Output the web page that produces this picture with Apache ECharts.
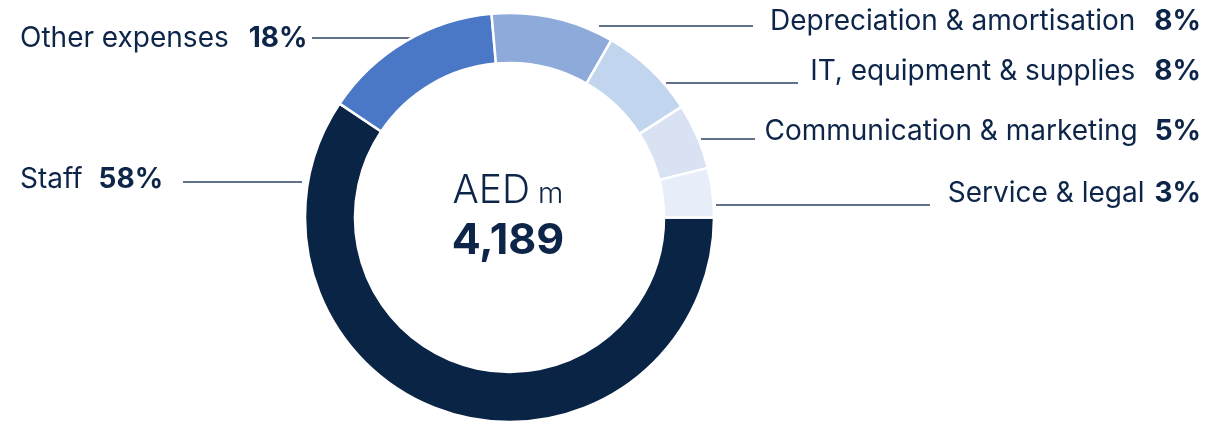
<!DOCTYPE html>
<html lang="en">
<head>
    <meta charset="utf-8">
    <title>Expenses breakdown</title>
    <script src="https://cdn.jsdelivr.net/npm/echarts@6/dist/echarts.min.js"></script>
    <style type="text/css">
        html, body {
            width: 100%;
            height: 100%;
            margin: 0px;
            padding: 0px;
            background: #ffffff;
        }

        #main {
            width: 1219px;
            height: 422px;
        }
    </style>
</head>
<body>
<div id="main"></div>
<script>
    // data
    var categories = ['Staff', 'Other expenses', 'Depreciation & amortisation',
        'IT, equipment & supplies', 'Communication & marketing', 'Service & legal'];
    // slice sizes as they are drawn (share of the ring, %)
    var shares = [59.4, 14.2, 9.7, 7.6, 5.2, 3.9];
    // percentages printed next to each slice
    var pctLabels = ['58%', '18%', '8%', '8%', '5%', '3%'];
    var colors = ['#0a2446', '#4a78c6', '#8eaadb', '#c2d5ef', '#d9e2f3', '#e7eef9'];
    var totalUnit = 'AED';
    var totalScale = 'm';
    var totalValue = '4,189';

    // where each label and its leader line sits (layout only)
    var labelPlace = [
        {side: 'left', y: 180, ly: 182, x1: 183, x2: 302, gap: 16},
        {side: 'left', y: 39, ly: 38, x1: 312, x2: 410, gap: 20},
        {side: 'right', y: 22, ly: 26, x1: 599, x2: 753, gap: 19},
        {side: 'right', y: 72, ly: 83, x1: 666, x2: 798, gap: 19},
        {side: 'right', y: 132, ly: 139, x1: 701, x2: 755, gap: 17},
        {side: 'right', y: 194, ly: 205, x1: 716, x2: 930, gap: 10}
    ];

    var textColor = '#0d2548';
    var fontFamily = 'Inter, "Noto Sans", sans-serif';
    var labelSize = 28;

    var pieData = categories.map(function (name, i) {
        return {name: name, value: shares[i], itemStyle: {color: colors[i]}};
    });

    var myChart = echarts.init(document.getElementById('main'), null, {renderer: 'canvas'});

    myChart.setOption({
        animation: false,
        graphic: [
            {
                type: 'text',
                x: 508,
                y: 191,
                style: {
                    text: '{a|' + totalUnit + '}{m|' + totalScale + '}',
                    align: 'center',
                    verticalAlign: 'middle',
                    rich: {
                        a: {fontSize: 39, fontWeight: 300, fontFamily: fontFamily, fill: textColor, color: textColor},
                        m: {fontSize: 29, fontWeight: 300, fontFamily: fontFamily, fill: textColor, color: textColor,
                            padding: [6, 0, 0, 8]}
                    }
                }
            },
            {
                type: 'text',
                x: 508,
                y: 241,
                style: {
                    text: totalValue,
                    align: 'center',
                    verticalAlign: 'middle',
                    fontSize: 43,
                    fontWeight: 700,
                    fontFamily: fontFamily,
                    fill: textColor
                }
            }
        ],
        series: [
            {
                type: 'pie',
                center: [509.5, 217.5],
                radius: [154.5, 204.5],
                startAngle: 0,
                clockwise: true,
                avoidLabelOverlap: false,
                itemStyle: {
                    borderColor: '#ffffff',
                    borderWidth: 2.5
                },
                emphasis: {disabled: true},
                label: {
                    show: true,
                    position: 'outside',
                    fontFamily: fontFamily,
                    color: textColor,
                    formatter: function (p) {
                        return '{n|' + p.name + '}{p' + p.dataIndex + '|' + pctLabels[p.dataIndex] + '}';
                    },
                    rich: (function () {
                        var r = {
                            n: {fontSize: labelSize, fontWeight: 400, fontFamily: fontFamily, color: textColor}
                        };
                        labelPlace.forEach(function (L, i) {
                            r['p' + i] = {fontSize: labelSize, fontWeight: 700, fontFamily: fontFamily,
                                color: textColor, padding: [0, 0, 0, L.gap]};
                        });
                        return r;
                    })()
                },
                labelLine: {
                    show: true,
                    smooth: false,
                    lineStyle: {color: '#2c4266', width: 1.3}
                },
                labelLayout: function (params) {
                    var L = labelPlace[params.dataIndex];
                    var right = L.side === 'right';
                    return {
                        x: right ? 1201 : 20,
                        y: L.y,
                        align: right ? 'right' : 'left',
                        verticalAlign: 'middle',
                        hideOverlap: false,
                        labelLinePoints: [[L.x1, L.ly], [L.x2, L.ly], [L.x2, L.ly]]
                    };
                },
                data: pieData
            }
        ]
    });
</script>
</body>
</html>
